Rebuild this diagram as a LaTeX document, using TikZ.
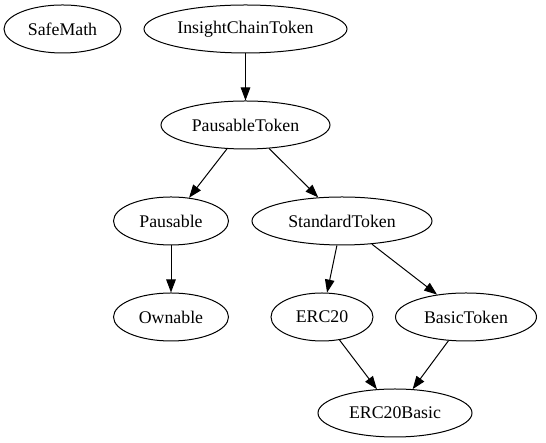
\documentclass[tikz,border=0pt]{standalone}
\usepackage{fontspec}
\setmainfont{Liberation Serif}
\usetikzlibrary{shapes.geometric,arrows.meta}
\begin{document}
\begin{tikzpicture}[x=1pt,y=1pt,
  cls/.style={ellipse,draw,line width=1pt,inner sep=0pt,minimum height=48pt,font=\fontsize{17.8}{21}\selectfont},
  dep/.style={line width=1pt,-{Triangle[length=13pt,width=9.5pt]}}]
\useasboundingbox (0,0) rectangle (546,443);
\node[cls,minimum width=117pt] (sm) at (62.5,414) {SafeMath};
\node[cls,minimum width=203pt] (ict) at (245.5,414) {InsightChainToken};
\node[cls,minimum width=169pt] (pt) at (245.5,318) {PausableToken};
\node[cls,minimum width=115pt] (p) at (171,222) {Pausable};
\node[cls,minimum width=180pt] (st) at (342,222) {StandardToken};
\node[cls,minimum width=115pt] (o) at (171,126) {Ownable};
\node[cls,minimum width=102pt] (e) at (322,126) {ERC20};
\node[cls,minimum width=141pt] (bt) at (466,126) {BasicToken};
\node[cls,minimum width=154pt] (eb) at (395,30) {ERC20Basic};
\draw[dep] (ict) -- (pt);
\draw[dep] (pt) -- (p);
\draw[dep] (pt) -- (st);
\draw[dep] (p) -- (o);
\draw[dep] (st) -- (e);
\draw[dep] (st) -- (bt);
\draw[dep] (e) -- (eb);
\draw[dep] (bt) -- (eb);
\end{tikzpicture}
\end{document}
